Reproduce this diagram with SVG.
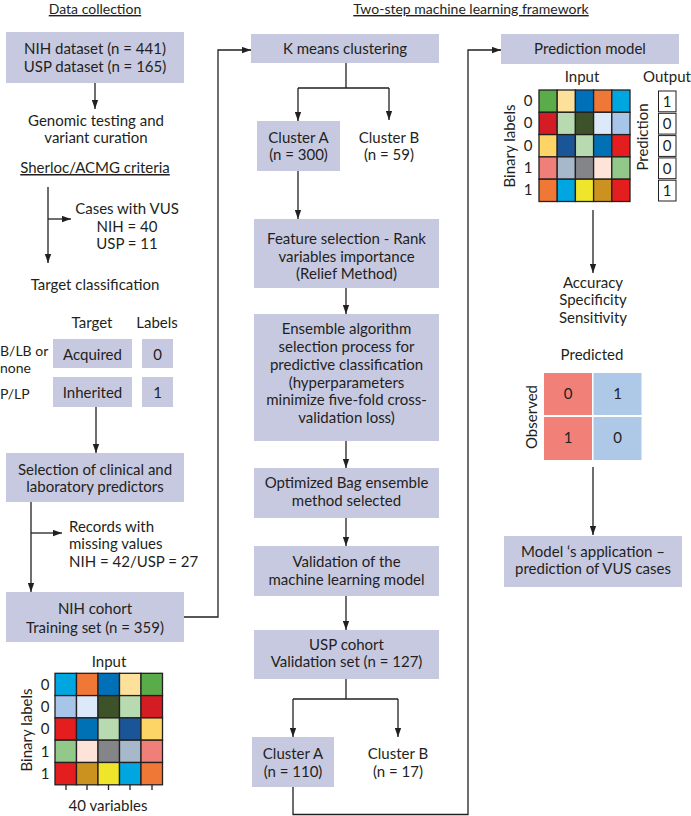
<svg xmlns="http://www.w3.org/2000/svg" width="691" height="816" viewBox="0 0 691 816">
<style>
text{font-family:Lato,"Liberation Sans",sans-serif;font-size:15px;fill:#231f20}
.c{text-anchor:middle}
.u{text-decoration:underline}
.s{font-size:14px}
.box{fill:#c7c9e1}
.ln{fill:none;stroke:#231f20;stroke-width:1.3}
.cell{stroke:#231f20;stroke-width:1.3}
.ob{fill:#fff;stroke:#231f20;stroke-width:1}
</style>
<defs>
<marker id="ah" viewBox="0 0 10 7" refX="10" refY="3.5" markerWidth="9" markerHeight="7" orient="auto" markerUnits="userSpaceOnUse"><path d="M0,0 L10,3.5 L0,7 z" fill="#231f20"/></marker>
</defs>
<rect width="691" height="816" fill="#fff"/>

<text class="c u s" x="95" y="14">Data collection</text>
<text class="c u s" x="471" y="14">Two-step machine learning framework</text>

<g id="connectors">
<path class="ln" d="M95,83 V109" marker-end="url(#ah)"/>
<path class="ln" d="M48,187 V263" marker-end="url(#ah)"/>
<path class="ln" d="M48,219 H71" marker-end="url(#ah)"/>
<path class="ln" d="M96,407 V453" marker-end="url(#ah)"/>
<path class="ln" d="M31,502 V592" marker-end="url(#ah)"/>
<path class="ln" d="M31,533 H62" marker-end="url(#ah)"/>
<path class="ln" d="M184,617 H218 V50 H251" marker-end="url(#ah)"/>
<path class="ln" d="M346,63 V88 M298,88 H389"/>
<path class="ln" d="M298,88 V121" marker-end="url(#ah)"/>
<path class="ln" d="M389,88 V120" marker-end="url(#ah)"/>
<path class="ln" d="M298,171 V219" marker-end="url(#ah)"/>
<path class="ln" d="M346,288 V314" marker-end="url(#ah)"/>
<path class="ln" d="M346,441 V468" marker-end="url(#ah)"/>
<path class="ln" d="M346,518 V546" marker-end="url(#ah)"/>
<path class="ln" d="M346,596 V630" marker-end="url(#ah)"/>
<path class="ln" d="M346,679 V699 M293,699 H398"/>
<path class="ln" d="M293,699 V737" marker-end="url(#ah)"/>
<path class="ln" d="M398,699 V737" marker-end="url(#ah)"/>
<path class="ln" d="M293,787 V814.5 H468 V50 H501" marker-end="url(#ah)"/>
<path class="ln" d="M593,210 V273" marker-end="url(#ah)"/>
<path class="ln" d="M593,467 V535" marker-end="url(#ah)"/>
</g>

<g id="datasets">
<rect class="box" x="6" y="32" width="178" height="51"/>
<text class="c" x="95" y="54">NIH dataset (n = 441)</text>
<text class="c" x="95" y="72">USP dataset (n = 165)</text>
</g>
<g id="genomic">
<text class="c" x="96" y="125.5">Genomic testing and</text>
<text class="c" x="96" y="143">variant curation</text>
</g>
<g id="sherloc"><text class="c u" x="95" y="173">Sherloc/ACMG criteria</text></g>
<g id="vus">
<text class="c" x="127" y="214">Cases with VUS</text>
<text class="c" x="127" y="232">NIH = 40</text>
<text class="c" x="127" y="249">USP = 11</text>
</g>
<g id="target">
<text class="c" x="95" y="290">Target classification</text>
<text class="c" x="92" y="328">Target</text>
<text class="c" x="157" y="328">Labels</text>
<text class="s" x="0" y="356">B/LB or</text>
<text class="s" x="0" y="373">none</text>
<text class="s" x="0" y="399">P/LP</text>
<rect class="box" x="53" y="339" width="79" height="29"/>
<text class="c" x="92.5" y="360">Acquired</text>
<rect class="box" x="142" y="339" width="31" height="29"/>
<text class="c" x="157.5" y="360">0</text>
<rect class="box" x="53" y="377" width="79" height="30"/>
<text class="c" x="92.5" y="398">Inherited</text>
<rect class="box" x="142" y="377" width="31" height="30"/>
<text class="c" x="157.5" y="398">1</text>
</g>
<g id="selection">
<rect class="box" x="6" y="453" width="178" height="49"/>
<text class="c" x="95" y="475">Selection of clinical and</text>
<text class="c" x="95" y="492">laboratory predictors</text>
</g>
<g id="missing">
<text x="69" y="532">Records with</text>
<text x="69" y="549">missing values</text>
<text x="69" y="567">NIH = 42/USP = 27</text>
</g>
<g id="nih-cohort">
<rect class="box" x="6" y="592" width="178" height="50"/>
<text class="c" x="95" y="614">NIH cohort</text>
<text class="c" x="95" y="633">Training set (n = 359)</text>
</g>
<g id="input-left">
<text class="c" x="109" y="667">Input</text>
<g class="cell">
<rect x="55" y="673.3" width="21.5" height="22.3" fill="#00a6e0"/>
<rect x="76.5" y="673.3" width="21.5" height="22.3" fill="#f07836"/>
<rect x="98" y="673.3" width="21.5" height="22.3" fill="#0070b8"/>
<rect x="119.5" y="673.3" width="21.5" height="22.3" fill="#fde19a"/>
<rect x="141" y="673.3" width="21.5" height="22.3" fill="#5aab4a"/>
<rect x="55" y="695.6" width="21.5" height="22.3" fill="#a7c5e8"/>
<rect x="76.5" y="695.6" width="21.5" height="22.3" fill="#dce9f8"/>
<rect x="98" y="695.6" width="21.5" height="22.3" fill="#3d5229"/>
<rect x="119.5" y="695.6" width="21.5" height="22.3" fill="#b8dab0"/>
<rect x="141" y="695.6" width="21.5" height="22.3" fill="#d41c24"/>
<rect x="55" y="717.9" width="21.5" height="22.3" fill="#e41e1e"/>
<rect x="76.5" y="717.9" width="21.5" height="22.3" fill="#0071b5"/>
<rect x="98" y="717.9" width="21.5" height="22.3" fill="#b8dab0"/>
<rect x="119.5" y="717.9" width="21.5" height="22.3" fill="#1a5598"/>
<rect x="141" y="717.9" width="21.5" height="22.3" fill="#fdd566"/>
<rect x="55" y="740.2" width="21.5" height="22.3" fill="#92c88a"/>
<rect x="76.5" y="740.2" width="21.5" height="22.3" fill="#fde3d8"/>
<rect x="98" y="740.2" width="21.5" height="22.3" fill="#848588"/>
<rect x="119.5" y="740.2" width="21.5" height="22.3" fill="#a6b8ca"/>
<rect x="141" y="740.2" width="21.5" height="22.3" fill="#f07f7a"/>
<rect x="55" y="762.5" width="21.5" height="22.3" fill="#e41e1e"/>
<rect x="76.5" y="762.5" width="21.5" height="22.3" fill="#cc9220"/>
<rect x="98" y="762.5" width="21.5" height="22.3" fill="#efe62b"/>
<rect x="119.5" y="762.5" width="21.5" height="22.3" fill="#00a6e0"/>
<rect x="141" y="762.5" width="21.5" height="22.3" fill="#f07836"/>
</g>
<text class="c" x="45" y="690">0</text>
<text class="c" x="45" y="712">0</text>
<text class="c" x="45" y="734">0</text>
<text class="c" x="45" y="757">1</text>
<text class="c" x="45" y="779">1</text>
<text class="c" transform="translate(32,730) rotate(-90)">Binary labels</text>
<path class="ln" d="M66,785 v5 M87,785 v5 M108.5,785 v5 M130,785 v5 M152,785 v5"/>
<text class="c" x="108" y="811">40 variables</text>
</g>

<g id="kmeans">
<rect class="box" x="251" y="34" width="188" height="29"/>
<text class="c" x="345" y="54">K means clustering</text>
</g>
<g id="clusterA1">
<rect class="box" x="257" y="121" width="83" height="50"/>
<text class="c" x="298.5" y="143">Cluster A</text>
<text class="c" x="298.5" y="160">(n = 300)</text>
</g>
<g id="clusterB1">
<text class="c" x="389" y="143">Cluster B</text>
<text class="c" x="389" y="160">(n = 59)</text>
</g>
<g id="feature">
<rect class="box" x="254" y="219" width="185" height="69"/>
<text class="c" x="346.5" y="244">Feature selection - Rank</text>
<text class="c" x="346.5" y="262">variables importance</text>
<text class="c" x="346.5" y="279">(Relief Method)</text>
</g>
<g id="ensemble">
<rect class="box" x="254" y="314" width="185" height="127"/>
<text class="c" x="346.5" y="334">Ensemble algorithm</text>
<text class="c" x="346.5" y="352">selection process for</text>
<text class="c" x="346.5" y="370">predictive classification</text>
<text class="c" x="346.5" y="388">(hyperparameters</text>
<text class="c" x="346.5" y="405">minimize five-fold cross-</text>
<text class="c" x="346.5" y="423">validation loss)</text>
</g>
<g id="optimized">
<rect class="box" x="254" y="468" width="185" height="50"/>
<text class="c" x="346.5" y="488">Optimized Bag ensemble</text>
<text class="c" x="346.5" y="506">method selected</text>
</g>
<g id="validation">
<rect class="box" x="254" y="546" width="185" height="50"/>
<text class="c" x="346.5" y="567">Validation of the</text>
<text class="c" x="346.5" y="585">machine learning model</text>
</g>
<g id="usp-cohort">
<rect class="box" x="254" y="630" width="185" height="49"/>
<text class="c" x="346.5" y="650">USP cohort</text>
<text class="c" x="346.5" y="667">Validation set (n = 127)</text>
</g>
<g id="clusterA2">
<rect class="box" x="252" y="737" width="82" height="50"/>
<text class="c" x="293" y="759">Cluster A</text>
<text class="c" x="293" y="777">(n = 110)</text>
</g>
<g id="clusterB2">
<text class="c" x="398" y="759">Cluster B</text>
<text class="c" x="398" y="777">(n = 17)</text>
</g>

<g id="prediction-model">
<rect class="box" x="501" y="34" width="178" height="30"/>
<text class="c" x="590" y="54">Prediction model</text>
</g>
<g id="input-right">
<text class="c" x="582" y="82">Input</text>
<text class="c" x="667" y="82">Output</text>
<g class="cell">
<rect x="539" y="90" width="18.2" height="22.3" fill="#5aab4a"/>
<rect x="557.2" y="90" width="18.2" height="22.3" fill="#fde19a"/>
<rect x="575.4" y="90" width="18.2" height="22.3" fill="#0070b8"/>
<rect x="593.6" y="90" width="18.2" height="22.3" fill="#f07836"/>
<rect x="611.8" y="90" width="18.2" height="22.3" fill="#00a6e0"/>
<rect x="539" y="112.3" width="18.2" height="22.3" fill="#d41c24"/>
<rect x="557.2" y="112.3" width="18.2" height="22.3" fill="#b8dab0"/>
<rect x="575.4" y="112.3" width="18.2" height="22.3" fill="#3d5229"/>
<rect x="593.6" y="112.3" width="18.2" height="22.3" fill="#dce9f8"/>
<rect x="611.8" y="112.3" width="18.2" height="22.3" fill="#a7c5e8"/>
<rect x="539" y="134.6" width="18.2" height="22.3" fill="#fdd566"/>
<rect x="557.2" y="134.6" width="18.2" height="22.3" fill="#1a5598"/>
<rect x="575.4" y="134.6" width="18.2" height="22.3" fill="#b8dab0"/>
<rect x="593.6" y="134.6" width="18.2" height="22.3" fill="#0071b5"/>
<rect x="611.8" y="134.6" width="18.2" height="22.3" fill="#e41e1e"/>
<rect x="539" y="156.9" width="18.2" height="22.3" fill="#f07f7a"/>
<rect x="557.2" y="156.9" width="18.2" height="22.3" fill="#a6b8ca"/>
<rect x="575.4" y="156.9" width="18.2" height="22.3" fill="#848588"/>
<rect x="593.6" y="156.9" width="18.2" height="22.3" fill="#fde3d8"/>
<rect x="611.8" y="156.9" width="18.2" height="22.3" fill="#92c88a"/>
<rect x="539" y="179.2" width="18.2" height="22.3" fill="#f07836"/>
<rect x="557.2" y="179.2" width="18.2" height="22.3" fill="#00a6e0"/>
<rect x="575.4" y="179.2" width="18.2" height="22.3" fill="#efe62b"/>
<rect x="593.6" y="179.2" width="18.2" height="22.3" fill="#cc9220"/>
<rect x="611.8" y="179.2" width="18.2" height="22.3" fill="#e41e1e"/>
</g>
<text class="c" x="528" y="106">0</text>
<text class="c" x="528" y="128">0</text>
<text class="c" x="528" y="151">0</text>
<text class="c" x="528" y="173">1</text>
<text class="c" x="528" y="195">1</text>
<text class="c" transform="translate(515,146) rotate(-90)">Binary labels</text>
<text class="c" transform="translate(648,137) rotate(-90)">Prediction</text>
<rect class="ob" x="658.5" y="91" width="17.5" height="20.8"/>
<rect class="ob" x="658.5" y="113.3" width="17.5" height="20.8"/>
<rect class="ob" x="658.5" y="135.6" width="17.5" height="20.8"/>
<rect class="ob" x="658.5" y="157.9" width="17.5" height="20.8"/>
<rect class="ob" x="658.5" y="180.2" width="17.5" height="20.8"/>
<text class="c" x="667" y="107">1</text>
<text class="c" x="667" y="129">0</text>
<text class="c" x="667" y="151">0</text>
<text class="c" x="667" y="174">0</text>
<text class="c" x="667" y="196">1</text>
</g>
<g id="metrics">
<text class="c" x="593" y="288">Accuracy</text>
<text class="c" x="593" y="305">Specificity</text>
<text class="c" x="593" y="323">Sensitivity</text>
</g>
<g id="confusion">
<text class="c" x="592" y="360">Predicted</text>
<rect x="544" y="373" width="48" height="42" fill="#f08078"/>
<rect x="593.5" y="373" width="48" height="42" fill="#aec8e8"/>
<rect x="544" y="417" width="48" height="43" fill="#f08078"/>
<rect x="593.5" y="417" width="48" height="43" fill="#aec8e8"/>
<text class="c" x="568" y="399">0</text>
<text class="c" x="617.5" y="399">1</text>
<text class="c" x="568" y="443">1</text>
<text class="c" x="617.5" y="443">0</text>
<text class="c" transform="translate(537,417) rotate(-90)">Observed</text>
</g>
<g id="application">
<rect class="box" x="504" y="536" width="178" height="51"/>
<text class="c" x="593" y="557">Model ‘s application –</text>
<text class="c" x="593" y="574">prediction of VUS cases</text>
</g>
</svg>
